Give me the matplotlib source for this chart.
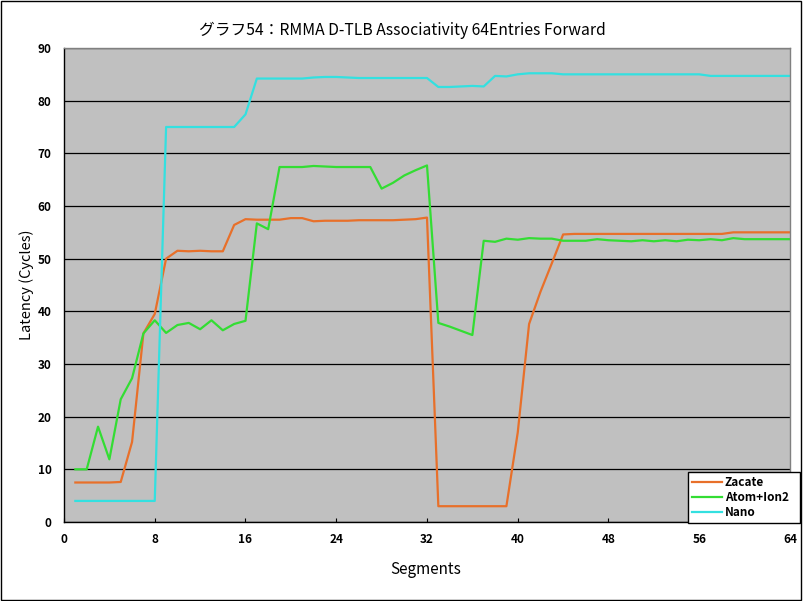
import matplotlib
matplotlib.use("Agg")
import matplotlib.pyplot as plt
from matplotlib.patches import Rectangle

plt.rcParams['font.family'] = ['Noto Sans CJK JP', 'DejaVu Sans']

segments = list(range(1, 65))

zacate = [7.5, 7.5, 7.5, 7.5, 7.6, 15.2, 35.8, 39.5, 50.0, 51.5,
          51.4, 51.5, 51.4, 51.4, 56.4, 57.5, 57.4, 57.4, 57.4, 57.7,
          57.7, 57.1, 57.2, 57.2, 57.2, 57.3, 57.3, 57.3, 57.3, 57.4,
          57.5, 57.8, 3.0, 3.0, 3.0, 3.0, 3.0, 3.0, 3.0, 17.0,
          37.6, 43.7, 49.1, 54.6, 54.7, 54.7, 54.7, 54.7, 54.7, 54.7,
          54.7, 54.7, 54.7, 54.7, 54.7, 54.7, 54.7, 54.7, 55.0, 55.0,
          55.0, 55.0, 55.0, 55.0]

atom = [10.0, 10.0, 18.1, 11.9, 23.3, 27.3, 35.8, 38.3, 35.9, 37.4,
        37.8, 36.6, 38.3, 36.4, 37.6, 38.2, 56.7, 55.6, 67.4, 67.4,
        67.4, 67.6, 67.5, 67.4, 67.4, 67.4, 67.4, 63.3, 64.4, 65.8,
        66.8, 67.7, 37.8, 37.1, 36.3, 35.5, 53.4, 53.2, 53.8, 53.6,
        53.9, 53.8, 53.8, 53.4, 53.4, 53.4, 53.7, 53.5, 53.4, 53.3,
        53.5, 53.3, 53.5, 53.3, 53.6, 53.5, 53.7, 53.5, 53.9, 53.7,
        53.7, 53.7, 53.7, 53.7]

nano = [4.0, 4.0, 4.0, 4.0, 4.0, 4.0, 4.0, 4.0, 75.0, 75.0,
        75.0, 75.0, 75.0, 75.0, 75.0, 77.4, 84.2, 84.2, 84.2, 84.2,
        84.2, 84.4, 84.5, 84.5, 84.4, 84.3, 84.3, 84.3, 84.3, 84.3,
        84.3, 84.3, 82.6, 82.6, 82.7, 82.8, 82.7, 84.7, 84.6, 85.0,
        85.2, 85.2, 85.2, 85.0, 85.0, 85.0, 85.0, 85.0, 85.0, 85.0,
        85.0, 85.0, 85.0, 85.0, 85.0, 85.0, 84.7, 84.7, 84.7, 84.7,
        84.7, 84.7, 84.7, 84.7]

series_names = ['Zacate', 'Atom+Ion2', 'Nano']
x_ticks = [0, 8, 16, 24, 32, 40, 48, 56, 64]
y_ticks = [0, 10, 20, 30, 40, 50, 60, 70, 80, 90]
title = 'グラフ54：RMMA D-TLB Associativity 64Entries Forward'
x_label = 'Segments'
y_label = 'Latency (Cycles)'

colors = ['#E8702A', '#33DD33', '#33E0E0']

fig = plt.figure(figsize=(8.04, 6.01), dpi=100)
fig.patch.set_facecolor('white')
ax = fig.add_axes([64/804, 79/601, 726/804, 474/601])
ax.set_facecolor('#C0C0C0')

for vals, name, c in zip([zacate, atom, nano], series_names, colors):
    ax.plot(segments, vals, color=c, lw=1.6, label=name, solid_joinstyle='round')

ax.set_xlim(0, 64)
ax.set_ylim(0, 90)
ax.set_xticks(x_ticks)
ax.set_yticks(y_ticks)
ax.set_xticklabels([str(t) for t in x_ticks], fontsize=8.5, fontweight='bold')
ax.set_yticklabels([str(t) for t in y_ticks], fontsize=8.5, fontweight='bold')
ax.tick_params(axis='x', direction='in', length=3, width=0.8, pad=8, colors='black')
ax.tick_params(axis='y', length=0, pad=9)
ax.grid(axis='y', color='black', lw=0.9)
ax.set_axisbelow(True)

for s in ['left', 'bottom']:
    ax.spines[s].set_color('black')
    ax.spines[s].set_linewidth(1.0)
for s in ['top', 'right']:
    ax.spines[s].set_color('#808080')
    ax.spines[s].set_linewidth(1.0)

fig.text(402/804, 1 - 30/601, title, ha='center', va='center', fontsize=11.3)
fig.text(27/804, 1 - 285/601, y_label, ha='center', va='center', rotation=90, fontsize=10.5)
fig.text(426/804, 1 - 570/601, x_label, ha='center', va='center', fontsize=11)

leg = ax.legend(loc='lower left', bbox_to_anchor=(688/804, 78/601, 112/804, 52/601),
                bbox_transform=fig.transFigure, mode='expand', frameon=True,
                fancybox=False, edgecolor='black', facecolor='white', framealpha=1,
                prop={'weight': 'bold', 'size': 8.5}, handlelength=2.6,
                handletextpad=0.2, borderpad=0.3, labelspacing=0.2, borderaxespad=0)
leg.get_frame().set_linewidth(1.0)

fig.patches.append(Rectangle((1/804, 1/601), 800/804, 599/601, transform=fig.transFigure,
                             fill=False, edgecolor='black', lw=1.0))

fig.savefig('out.png', dpi=100)
